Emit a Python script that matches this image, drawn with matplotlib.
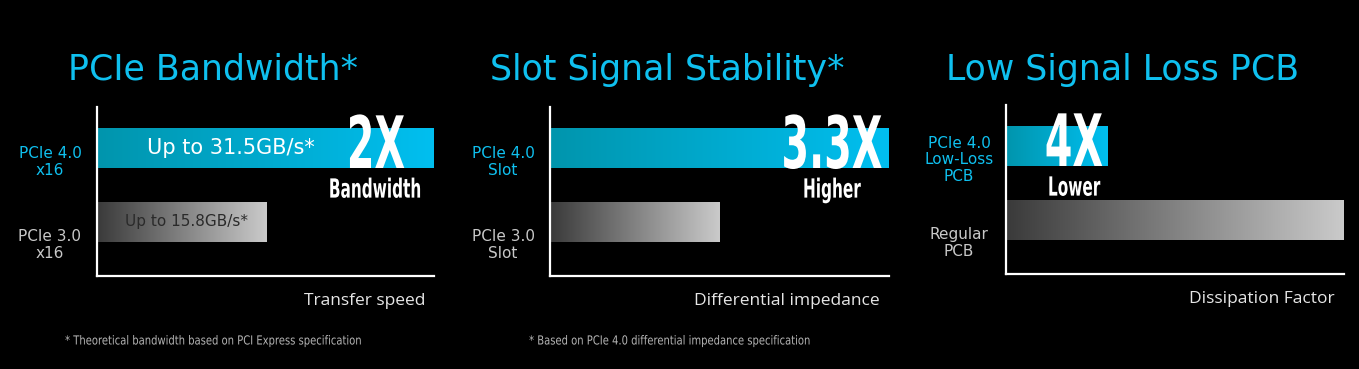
import numpy as np
import matplotlib
matplotlib.use("Agg")
import matplotlib.pyplot as plt
from matplotlib.colors import LinearSegmentedColormap
from matplotlib.patheffects import AbstractPathEffect
from matplotlib.transforms import Affine2D
from matplotlib.path import Path

# ---- data ----
titles = ["PCIe Bandwidth*", "Slot Signal Stability*", "Low Signal Loss PCB"]
new_labels = ["PCIe 4.0\nx16", "PCIe 4.0\nSlot", "PCIe 4.0\nLow-Loss\nPCB"]
old_labels = ["PCIe 3.0\nx16", "PCIe 3.0\nSlot", "Regular\nPCB"]
new_values = [31.5, 100, 30]
old_values = [15.8, 50, 100]
new_bar_text = ["Up to 31.5GB/s*", "", ""]
old_bar_text = ["Up to 15.8GB/s*", "", ""]
factors = ["2X", "3.3X", "4X"]
factor_words = ["Bandwidth", "Higher", "Lower"]
xlabels = ["Transfer speed", "Differential impedance", "Dissipation Factor"]
footnotes = ["* Theoretical bandwidth based on PCI Express specification",
             "* Based on PCIe 4.0 differential impedance specification"]

# ---- layout (pixels) ----
W, H = 1359, 369
rects = [(97, 107, 434, 276), (550, 107, 889, 276), (1006, 105, 1344, 274)]
factor_x = [0.825, 0.83, 0.20]
footnote_x = [65, 529]

CYAN = "#0fc0ef"
LABEL_GRAY = "#c8c8c8"
blue_cmap = LinearSegmentedColormap.from_list("b", ["#0095ad", "#00bff0"])
gray_cmap = LinearSegmentedColormap.from_list("g", ["#3a3a3a", "#cacaca"])


class Squeeze(AbstractPathEffect):
    """squeeze glyphs horizontally, to fake a condensed font"""

    def __init__(self, sx, anchor="center"):
        super().__init__()
        self.sx = sx
        self.anchor = anchor

    def draw_path(self, renderer, gc, tpath, affine, rgbFace=None):
        v = affine.transform(tpath.vertices)
        if tpath.codes is not None:
            v = v[tpath.codes != Path.CLOSEPOLY]
        if len(v):
            x0 = v[:, 0].min() if self.anchor == "left" else (v[:, 0].min() + v[:, 0].max()) / 2
        else:
            x0 = 0
        aff = affine + Affine2D().translate(-x0, 0).scale(self.sx, 1).translate(x0, 0)
        renderer.draw_path(gc, tpath, aff, rgbFace)


fig = plt.figure(figsize=(W / 100, H / 100), dpi=100, facecolor="black")
grad = np.linspace(0, 1, 256).reshape(1, -1)
bar_h = 40 / 74

for i, (l, t, r, b) in enumerate(rects):
    ax = fig.add_axes([l / W, 1 - b / H, (r - l) / W, (b - t) / H])
    ax.set_facecolor("black")
    xmax = max(new_values[i], old_values[i])

    for y, v, cmap in [(1, new_values[i], blue_cmap), (0, old_values[i], gray_cmap)]:
        ax.imshow(grad, cmap=cmap, aspect="auto",
                  extent=(0, v, y - bar_h / 2, y + bar_h / 2), zorder=1)

    ax.set_xlim(0, xmax)
    ax.set_ylim(-0.73, 1.554)
    for s in ["top", "right"]:
        ax.spines[s].set_visible(False)
    for s in ["left", "bottom"]:
        ax.spines[s].set_color("white")
        ax.spines[s].set_linewidth(1.6)
    ax.set_xticks([])
    ax.set_yticks([])

    ytr = ax.get_yaxis_transform()
    ax.annotate(new_labels[i], xy=(0, 1), xycoords=ytr, xytext=(-47, -14),
                textcoords="offset pixels", ha="center", va="center",
                color=CYAN, fontsize=11, linespacing=1.12, annotation_clip=False)
    ax.annotate(old_labels[i], xy=(0, 0), xycoords=ytr, xytext=(-47, -23),
                textcoords="offset pixels", ha="center", va="center",
                color=LABEL_GRAY, fontsize=11, linespacing=1.12, annotation_clip=False)

    if new_bar_text[i]:
        ax.text(0.398, 1, new_bar_text[i], transform=ytr, ha="center", va="center",
                color="white", fontsize=15, zorder=3)
    if old_bar_text[i]:
        ax.text(0.267, 0, old_bar_text[i], transform=ytr, ha="center", va="center",
                color="#2a2a2a", fontsize=11, zorder=3)

    ax.text(factor_x[i], 1 - bar_h / 2, factors[i], transform=ytr,
            ha="center", va="baseline", color="white", fontsize=52,
            fontweight="bold", zorder=4, path_effects=[Squeeze(0.55)])
    ax.text(factor_x[i], 1 - bar_h / 2 - 0.13, factor_words[i], transform=ytr,
            ha="center", va="top", color="white", fontsize=19,
            fontweight="bold", zorder=4, path_effects=[Squeeze(0.58)])

    # title
    cx = (l + r) / 2 - 52
    fig.text(cx / W, 1 - 70 / H, titles[i], ha="center", va="center",
             color=CYAN, fontsize=25)
    # x label
    fig.text((r - 9) / W, 1 - (b + 25) / H, xlabels[i], ha="right", va="center",
             color="#e6e6e6", fontsize=12.5, family=["Open Sans", "DejaVu Sans"])

for x, txt in zip(footnote_x, footnotes):
    fig.text(x / W, 1 - 341 / H, txt, ha="left", va="center",
             color="#b4b4b4", fontsize=9, path_effects=[Squeeze(0.8, "left")])

fig.savefig("out.png", dpi=100, facecolor="black")
